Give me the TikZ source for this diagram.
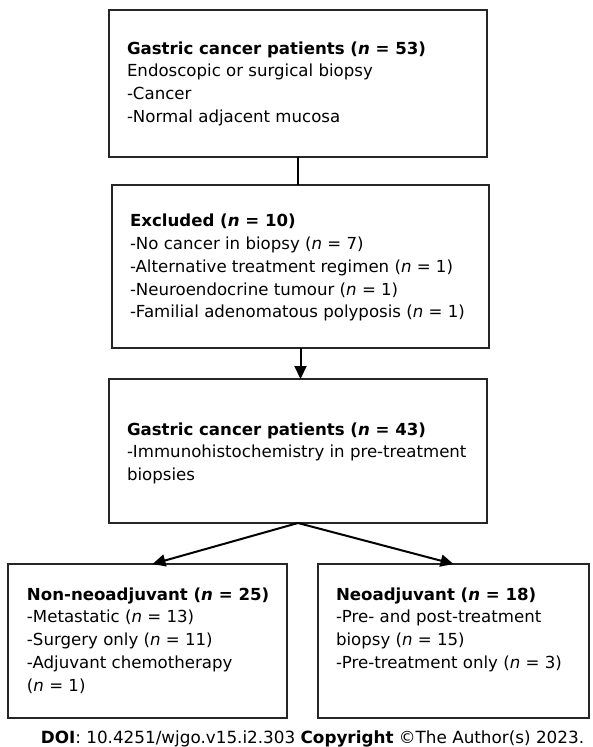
\documentclass[tikz,border=0pt]{standalone}
\usepackage{fontspec}
\setmainfont{DejaVu Sans}
\usetikzlibrary{arrows.meta}
\newcommand{\nn}{\textit{n}}
\newcommand{\lines}[1]{\begin{tabular}[t]{@{}l@{}}#1\end{tabular}}
\begin{document}
\begin{tikzpicture}[x=1pt,y=-1pt,
  box/.style={draw=black!85, line width=1.3pt, rectangle, inner sep=0pt, outer sep=0pt},
  txt/.style={inner sep=0pt, outer sep=0pt, anchor=base west, font=\fontsize{16.6}{22.8}\selectfont},
  conn/.style={line width=2pt, black},
  arr/.style={conn, -{Triangle[length=13pt,width=12pt]}}]
\useasboundingbox (0,0) rectangle (592,747);
\node[box, minimum width=378pt, minimum height=147pt] (b1) at (298,83.5) {};
\node[box, minimum width=377pt, minimum height=163pt] (b2) at (300.5,266.5) {};
\node[box, minimum width=378pt, minimum height=144pt] (b3) at (298,451) {};
\node[box, minimum width=279pt, minimum height=154pt] (b4) at (147.5,641) {};
\node[box, minimum width=271pt, minimum height=154pt] (b5) at (453.5,641) {};

\node[txt] (t1) at (127,54) {\lines{\textbf{Gastric cancer patients (\nn{} = 53)}\\Endoscopic or surgical biopsy\\-Cancer\\-Normal adjacent mucosa}};
\node[txt] (t2) at (130,226.7) {\lines{\textbf{Excluded (\nn{} = 10)}\\-No cancer in biopsy (\nn{} = 7)\\-Alternative treatment regimen (\nn{} = 1)\\-Neuroendocrine tumour (\nn{} = 1)\\-Familial adenomatous polyposis (\nn{} = 1)}};
\node[txt] (t3) at (127,435) {\lines{\textbf{Gastric cancer patients (\nn{} = 43)}\\-Immunohistochemistry in pre-treatment\\biopsies}};
\node[txt] (t4) at (27,600) {\lines{\textbf{Non-neoadjuvant (\nn{} = 25)}\\-Metastatic (\nn{} = 13)\\-Surgery only (\nn{} = 11)\\-Adjuvant chemotherapy\\(\nn{} = 1)}};
\node[txt] (t5) at (336,600) {\lines{\textbf{Neoadjuvant (\nn{} = 18)}\\-Pre- and post-treatment\\biopsy (\nn{} = 15)\\-Pre-treatment only (\nn{} = 3)}};

\node[txt, anchor=base, font=\fontsize{16.8}{20}\selectfont] (foot) at (312.5,743) {\textbf{DOI}: 10.4251/wjgo.v15.i2.303 \textbf{Copyright} ©The Author(s) 2023.};

\draw[conn] (b1.south) -- (b1.south |- b2.north);
\draw[arr] (b2.south) -- (b2.south |- b3.north);
\draw[arr] (b3.south) -- ([xshift=5pt]b4.north);
\draw[arr] (b3.south) -- (b5.north);
\end{tikzpicture}
\end{document}
